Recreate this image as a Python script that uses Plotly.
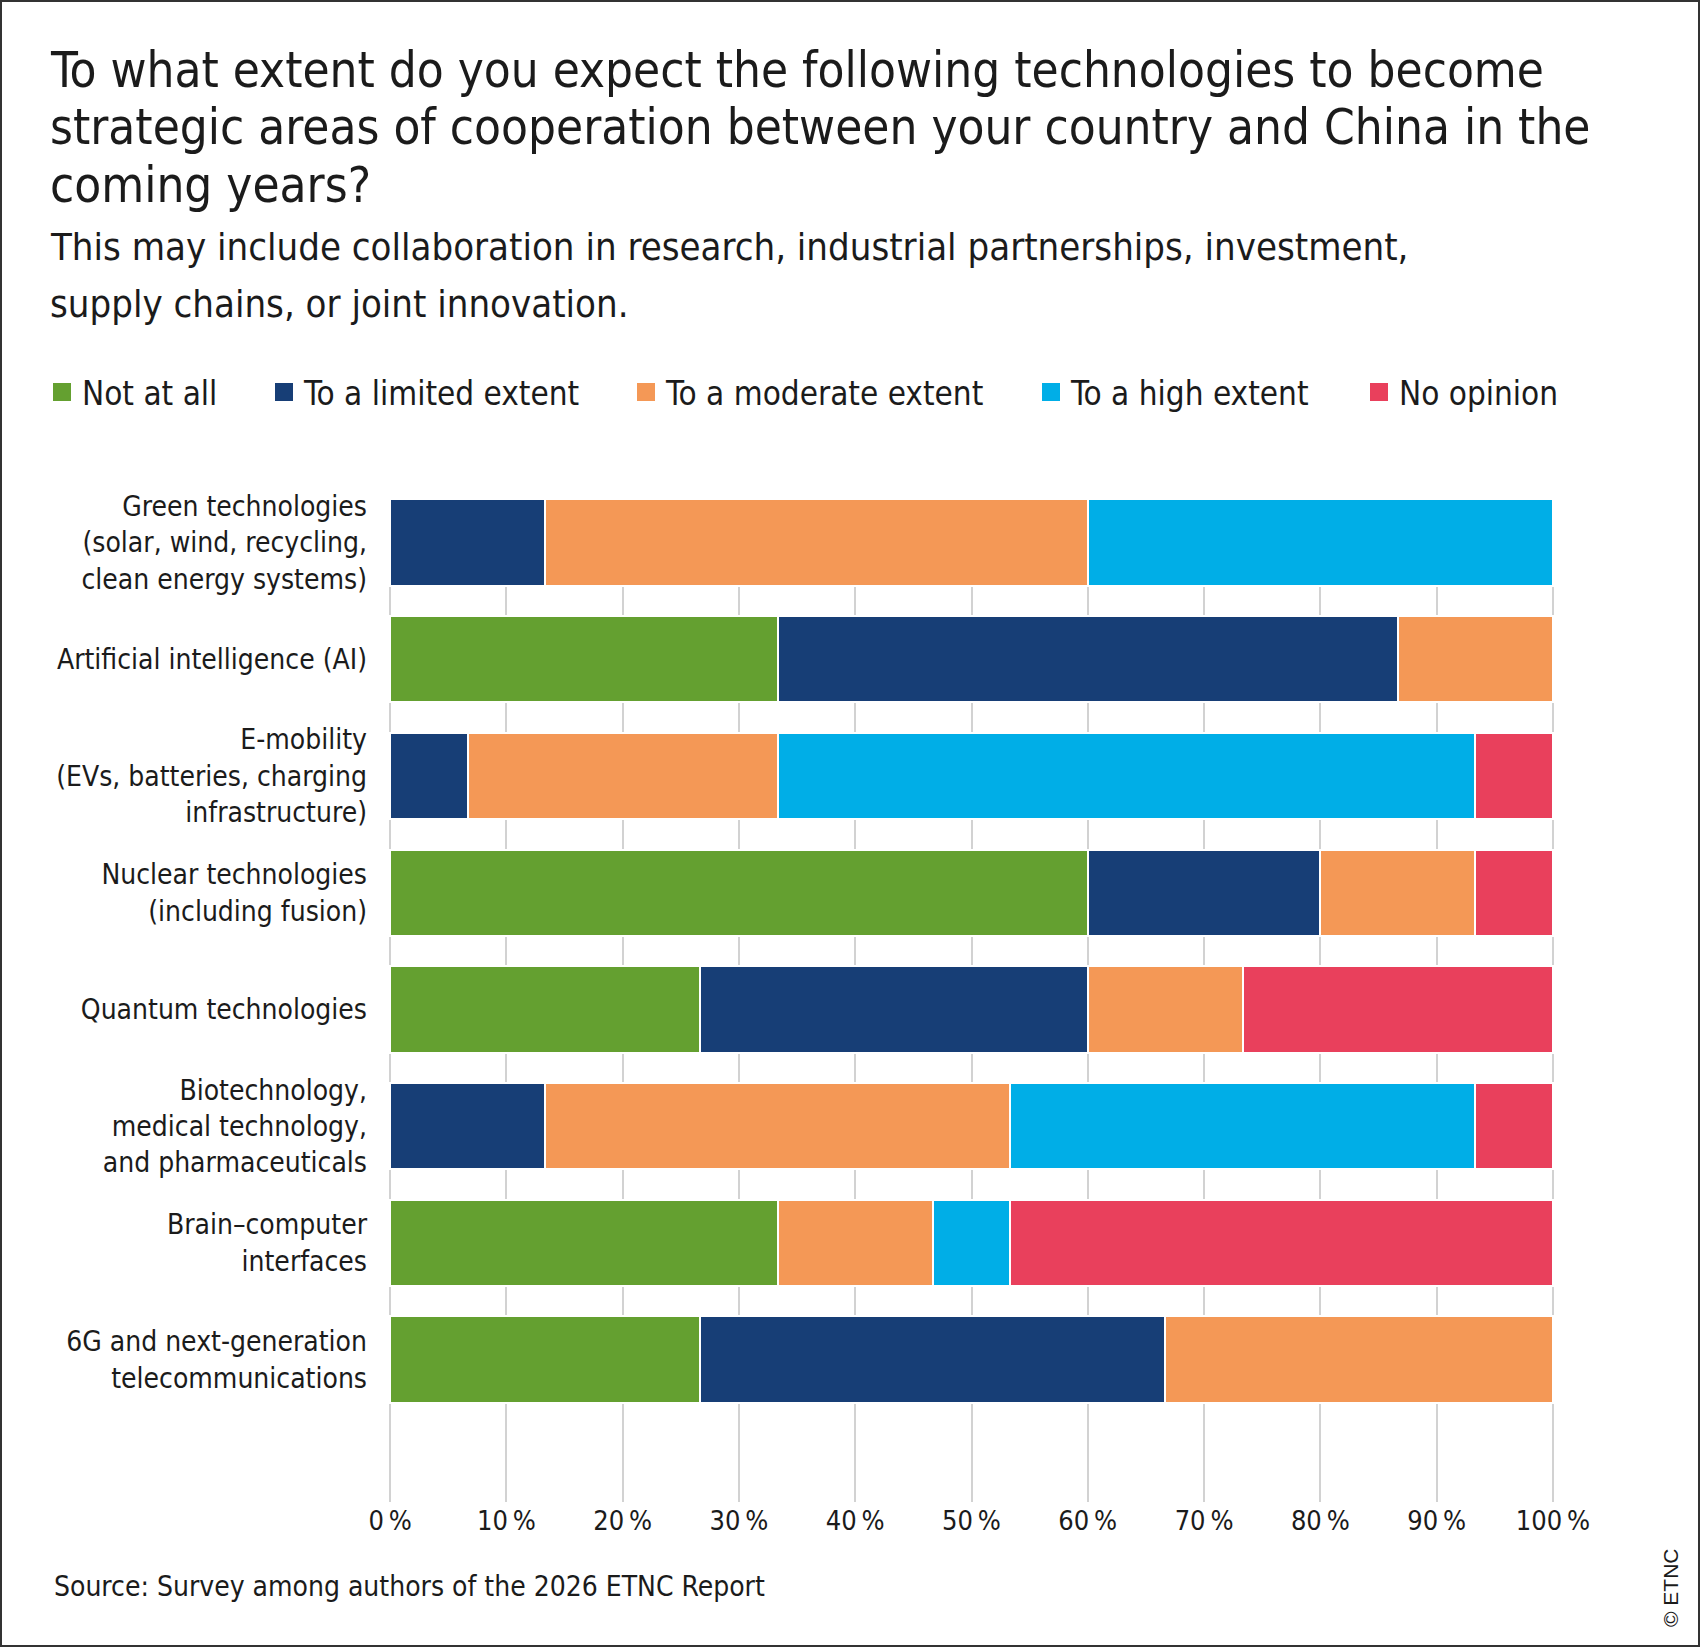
import plotly.graph_objects as go

# ---------------- data ----------------
categories = [
    "Green technologies<br>(solar, wind, recycling,<br>clean energy systems)",
    "Artificial intelligence (AI)",
    "E-mobility<br>(EVs, batteries, charging<br>infrastructure)",
    "Nuclear technologies<br>(including fusion)",
    "Quantum technologies",
    "Biotechnology,<br>medical technology,<br>and pharmaceuticals",
    "Brain\u2013computer<br>interfaces",
    "6G and next-generation<br>telecommunications",
]
series_names = ["Not at all", "To a limited extent", "To a moderate extent",
                "To a high extent", "No opinion"]
not_at_all = [0, 33.33, 0, 60.0, 26.67, 0, 33.33, 26.67]
limited = [13.33, 53.33, 6.67, 20.0, 33.33, 13.33, 0, 40.0]
moderate = [46.67, 13.34, 26.67, 13.33, 13.33, 40.0, 13.33, 33.33]
high = [40.0, 0, 60.0, 0, 0, 40.0, 6.67, 0]
no_opinion = [0, 0, 6.66, 6.67, 26.67, 6.67, 46.67, 0]
series_values = [not_at_all, limited, moderate, high, no_opinion]
colors = ["#64a030", "#173e76", "#f49856", "#00aee7", "#e9405c"]

tick_vals = [0, 10, 20, 30, 40, 50, 60, 70, 80, 90, 100]
tick_text = ["0\u2009%", "10\u2009%", "20\u2009%", "30\u2009%", "40\u2009%", "50\u2009%",
             "60\u2009%", "70\u2009%", "80\u2009%", "90\u2009%", "100\u2009%"]

title_lines = [
    "To what extent do you expect the following technologies to become",
    "strategic areas of cooperation between your country and China in the",
    "coming years?",
]
subtitle_lines = [
    "This may include collaboration in research, industrial partnerships, investment,",
    "supply chains, or joint innovation.",
]
source_text = "Source: Survey among authors of the 2026 ETNC Report"
credit_text = "\u00a9 ETNC"

# ---------------- layout geometry ----------------
W, H = 1700, 1647
L, R, T, B = 388, 145, 499, 145
PW, PH = W - L - R, H - T - B
FONT = "DejaVu Sans Condensed, DejaVu Sans, sans-serif"
TXT = "#1b1b1b"


def xp(px):
    return (px - L) / PW


def yp(py):
    return (H - B - py) / PH


fig = go.Figure()

for name, vals, col in zip(series_names, series_values, colors):
    fig.add_trace(go.Bar(
        y=categories, x=vals, name=name, orientation="h",
        marker=dict(color=col, line=dict(color="white", width=2)),
        showlegend=False, hoverinfo="x+y",
    ))

# legend entries (one legend per entry for exact placement)
legend_centers = [64, 286, 648, 1053, 1381]
legend_layouts = {}
for i, (name, col) in enumerate(zip(series_names, colors)):
    key = "legend" if i == 0 else f"legend{i+1}"
    fig.add_trace(go.Scatter(
        x=[None], y=[None], mode="markers", name=name,
        marker=dict(symbol="square", size=16, color=col,
                    line=dict(color=col, width=2)),
        legend=key, showlegend=True, hoverinfo="skip",
    ))
    legend_layouts[key] = dict(
        orientation="h", x=xp(legend_centers[i] - 22), y=yp(392),
        xanchor="left", yanchor="middle", bgcolor="rgba(0,0,0,0)",
        borderwidth=0, font=dict(family=FONT, size=33, color=TXT),
        itemclick=False, itemdoubleclick=False,
    )

annotations = []
for line, cy in zip(title_lines, [70, 128, 185]):
    annotations.append(dict(
        text=line, xref="paper", yref="paper", x=xp(48), y=yp(cy),
        xanchor="left", yanchor="middle", showarrow=False,
        font=dict(family=FONT, size=49, color=TXT)))
for line, cy in zip(subtitle_lines, [247, 304]):
    annotations.append(dict(
        text=line, xref="paper", yref="paper", x=xp(48), y=yp(cy),
        xanchor="left", yanchor="middle", showarrow=False,
        font=dict(family=FONT, size=38, color=TXT)))
annotations.append(dict(
    text=source_text, xref="paper", yref="paper", x=xp(52), y=yp(1586),
    xanchor="left", yanchor="middle", showarrow=False,
    font=dict(family=FONT, size=28, color=TXT)))
annotations.append(dict(
    text=credit_text, xref="paper", yref="paper", x=xp(1670), y=yp(1588),
    xanchor="center", yanchor="middle", showarrow=False, textangle=-90,
    font=dict(family="Liberation Sans, Arial, sans-serif", size=21, color=TXT)))

fig.update_layout(
    width=W, height=H,
    margin=dict(l=L, r=R, t=T, b=B, pad=0),
    paper_bgcolor="white", plot_bgcolor="white",
    barmode="stack", bargap=0.26,
    font=dict(family=FONT, color=TXT),
    annotations=annotations,
    shapes=[dict(type="rect", xref="paper", yref="paper",
                 x0=xp(1), x1=xp(W - 1), y0=yp(H - 1), y1=yp(1),
                 line=dict(color="#333333", width=2), layer="above")],
    **legend_layouts,
)
fig.update_xaxes(
    range=[-0.18, 100.18], tickvals=tick_vals, ticktext=tick_text,
    showgrid=True, gridcolor="#d2d2d2", gridwidth=1.5,
    zeroline=False, showline=False, ticks="",
    tickfont=dict(family=FONT, size=27, color=TXT),
    fixedrange=True,
)
fig.update_yaxes(
    type="category", categoryorder="array", categoryarray=categories,
    range=[8.22, -0.373], showgrid=False, zeroline=False, showline=False,
    ticks="", ticklabelstandoff=20,
    tickfont=dict(family=FONT, size=28, color=TXT),
    fixedrange=True,
)

fig.write_html("out.html")
